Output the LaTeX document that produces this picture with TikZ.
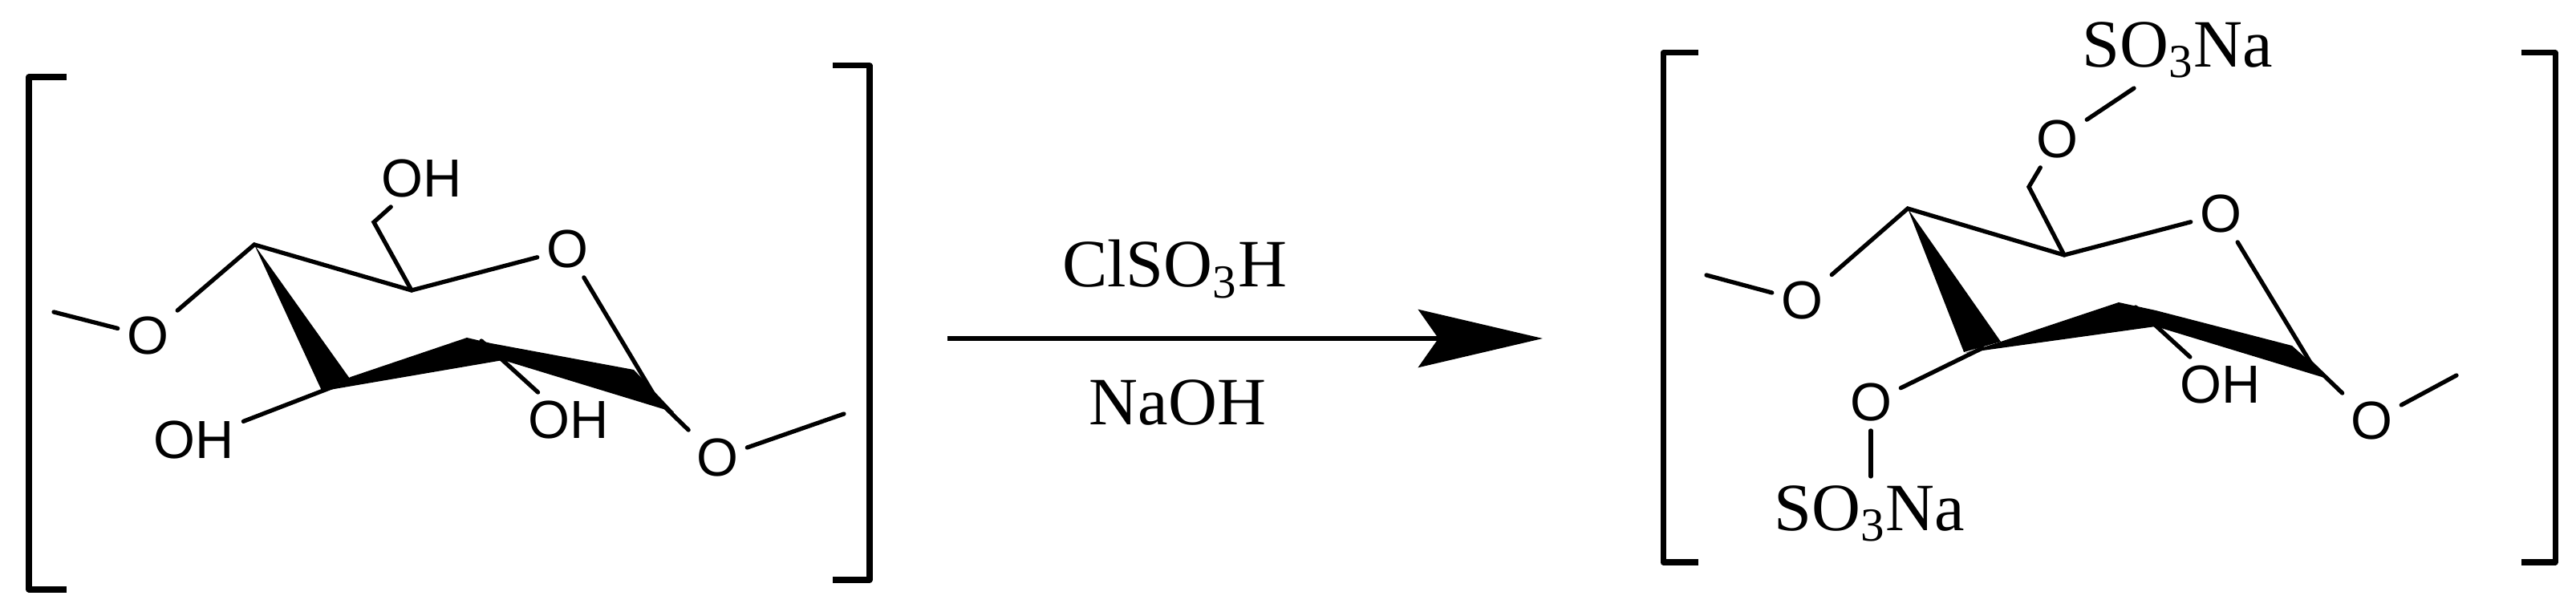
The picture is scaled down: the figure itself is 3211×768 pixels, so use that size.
\documentclass[tikz,border=0pt]{standalone}
\usepackage{fontspec}
\setmainfont{Liberation Serif}
\setsansfont{Liberation Sans}
\usetikzlibrary{arrows.meta}
\begin{document}
\begin{tikzpicture}[x=0.01cm,y=-0.01cm,
  bond/.style={line width=1.5pt,line cap=round},
  brk/.style={line width=2pt,line join=round},
  atom/.style={font=\sffamily\fontsize{19}{21}\selectfont,inner sep=3pt},
  sulf/.style={font=\fontsize{24}{26}\selectfont,inner sep=3pt},
  reag/.style={font=\fontsize{24}{26}\selectfont,inner sep=0pt,anchor=base}]
\useasboundingbox (0,0) rectangle (3211,768);
% ---------- left molecule ----------
\draw[brk] (83,96) -- (36,96) -- (36,735) -- (83,735);
\draw[brk] (1038,82) -- (1084,82) -- (1084,723) -- (1038,723);
\coordinate (lC4) at (317,305);
\coordinate (lC5) at (513,362);
\coordinate (lC6) at (466,277);
\coordinate (lC3) at (421,480);
\coordinate (lC2) at (600,425);
\coordinate (lC1) at (818,497);
\coordinate (lMe1) at (67,389);
\coordinate (lMe2) at (1052,516);
\node[atom] (lO4) at (184,419) {O};
\node[atom] (lOr) at (707,311) {O};
\node[atom] (lO1) at (894,571) {O};
\node[atom] (lO6) at (526,223) {OH};
\node[atom] (lO3) at (242,549) {OH};
\node[atom] (lO2) at (709,524) {OH};
\draw[bond] (lMe1) -- (lO4);
\draw[bond] (lO4) -- (lC4) -- (lC5) -- (lOr) -- (lC1) -- (lO1) -- (lMe2);
\draw[bond] (lC5) -- (lC6) -- (lO6);
\draw[bond] (lC3) -- (lO3);
\draw[bond] (lC2) -- (lO2);
\fill (317,305) -- (401,487) -- (436,472) -- cycle;
\fill (405,487) -- (437,470) -- (582,421) -- (612,428) -- (790,461) -- (840,514) -- (627,449) -- cycle;
% ---------- arrow ----------
\coordinate (aS) at (1181,422);
\coordinate (aE) at (1923,422);
\draw[line width=1.8pt,-{Stealth[length=155*0.01cm,width=72*0.01cm,inset=25*0.01cm]}] (aS) -- (aE);
\node[reag] (r1) at (1464,358) {ClSO\textsubscript{3}H};
\node[reag] (r2) at (1468,530) {NaOH};
% ---------- right molecule ----------
\draw[brk] (2117,66) -- (2073,66) -- (2073,701) -- (2117,701);
\draw[brk] (3143,66) -- (3185,66) -- (3185,701) -- (3143,701);
\coordinate (rC4) at (2378,260);
\coordinate (rC5) at (2573,318);
\coordinate (rC6) at (2529,233);
\coordinate (rC3) at (2471,434);
\coordinate (rC2) at (2662,383);
\coordinate (rC1) at (2880,452);
\coordinate (rMe1) at (2127,343);
\coordinate (rMe2) at (3062,468);
\node[atom] (rO4) at (2246,375) {O};
\node[atom] (rOr) at (2768,267) {O};
\node[atom] (rO1) at (2956,525) {O};
\node[atom] (rO6) at (2564,174) {O};
\node[atom] (rO3) at (2332,502) {O};
\node[atom] (rO2) at (2768,480) {OH};
\node[sulf] (rS6) at (2714,62) {SO\textsubscript{3}Na};
\node[sulf] (rS3) at (2330,640) {SO\textsubscript{3}Na};
\draw[bond] (rMe1) -- (rO4);
\draw[bond] (rO4) -- (rC4) -- (rC5) -- (rOr) -- (rC1) -- (rO1) -- (rMe2);
\draw[bond] (rC5) -- (rC6) -- (rO6);
\draw[bond] (rO6) -- (2660,110);
\draw[bond] (rC3) -- (rO3);
\draw[bond] (rO3) -- (rO3 |- rS3.north);
\draw[bond] (rC2) -- (rO2);
\fill (2378,260) -- (2448,439) -- (2494,426) -- cycle;
\fill (2450,440) -- (2494,426) -- (2641,377) -- (2687,387) -- (2857,431) -- (2904,473) -- (2687,407) -- cycle;
\end{tikzpicture}
\end{document}
